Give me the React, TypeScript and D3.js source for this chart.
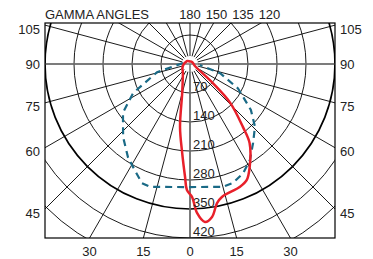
import React from 'react';
import * as d3 from 'd3';

// grid definitions
const ringValues = [70, 140, 210, 280, 350, 420, 490];
const ringLabels = [70, 140, 210, 280, 350, 420];
const boldRing = 350;
const spokeAngles = [0, 15, 30, 45, 60, 75, 90, 105, 120, 135, 150, 165, 180, 195, 210, 225, 240, 255, 270, 285, 300, 315, 330, 345];
const sideLabels = [105, 90, 75, 60, 45];
const bottomLabels = [-30, -15, 0, 15, 30];
const topLabels = [180, 150, 135, 120];
const titleText = 'GAMMA ANGLES';

// red curve: gamma (deg from nadir, negative = left), intensity (cd)
const redGamma = [-180, -135, -117, -90, -65, -38, -15, -9, -5, -2.5, -1.4, 0.9, 2.7, 5.4, 8.2, 11, 13.5, 17.4, 22, 26, 30, 37, 40, 46, 50, 68, 135];
const redCd = [6, 10, 11, 15, 20, 28, 73, 154, 216, 273, 304, 321, 360, 383, 373, 342, 330, 324, 320, 312, 288, 239, 199, 135, 72, 13, 7];

// teal dashed curve
const tealGamma = [-98, -76, -63, -54, -42.5, -33.7, -29, -22, -18, 0, 15, 20, 26, 32, 38.6, 46, 53, 63, 73, 84];
const tealCd = [17, 82, 154, 200, 239, 270, 284, 310, 312, 297, 307, 305, 293, 273, 244, 218, 184, 130, 76, 24];

const W = 373;
const H = 259;
const cx = 190;
const cy = 64;
const rScale = d3.scaleLinear().domain([0, 350]).range([0, 145]);
const x0 = cx - rScale(350);
const x1 = cx + rScale(350);
const y0 = 23;
const y1 = cy + rScale(420);

const rad = (g: number) => (g * Math.PI) / 180;
const pt = (g: number, r: number): [number, number] => [cx + r * Math.sin(rad(g)), cy + r * Math.cos(rad(g))];

const FONT = "'Liberation Sans', Arial, sans-serif";

export default function App() {
  const redData = redGamma.map((g, i) => [g, redCd[i]] as [number, number]);
  const tealData = tealGamma.map((g, i) => [g, tealCd[i]] as [number, number]);

  const radial = d3
    .lineRadial<[number, number]>()
    .angle((d) => Math.PI - rad(d[0]))
    .radius((d) => rScale(d[1]));

  const redPath = radial.curve(d3.curveCatmullRomClosed.alpha(0.5))(redData) || '';
  const tealPath = d3
    .lineRadial<[number, number]>()
    .angle((d) => Math.PI - rad(d[0]))
    .radius((d) => rScale(d[1]))
    .curve(d3.curveLinear)(tealData) || '';

  // side label y: intercept of spoke with the frame's left edge
  const sideY = (g: number) => cy - (x0 - cx) / Math.tan(rad(g)) * 1 * -1 * -1;
  const sideYFixed = (g: number) => {
    const dx = cx - x0;
    const y = cy + dx / Math.tan(rad(g));
    return g === 90 ? cy : y + 4;
  };
  const bottomX = (g: number) => cx + (y1 - cy) * Math.tan(rad(g));

  return (
    <svg width={W} height={H} style={{ position: 'absolute', left: 0, top: 0 }} fontFamily={FONT}>
      <defs>
        <clipPath id="box">
          <rect x={x0} y={y0} width={x1 - x0} height={y1 - y0} />
        </clipPath>
      </defs>
      <rect x={0} y={0} width={W} height={H} fill="#fff" />
      <g clipPath="url(#box)">
        {spokeAngles.map((g) => {
          const a = pt(g, 8);
          const b = pt(g, 400);
          return <line key={'s' + g} x1={a[0]} y1={a[1]} x2={b[0]} y2={b[1]} stroke="#000" strokeWidth={0.9} />;
        })}
        {ringValues.map((v) => (
          <circle
            key={'c' + v}
            cx={cx}
            cy={cy}
            r={rScale(v)}
            fill="none"
            stroke="#000"
            strokeWidth={v === boldRing ? 1.7 : 0.9}
          />
        ))}
        <line x1={x0} y1={cy} x2={x1} y2={cy} stroke="#777" strokeWidth={1.6} />
        <line x1={cx} y1={cy} x2={cx} y2={y1} stroke="#777" strokeWidth={1.6} />
        <path d={tealPath} transform={`translate(${cx},${cy})`} fill="none" stroke="#1a6a86" strokeWidth={2.2} strokeDasharray="7,5" />
        <path d={redPath} transform={`translate(${cx},${cy})`} fill="none" stroke="#e8202a" strokeWidth={2.5} />
      </g>
      <rect x={x0} y={y0} width={x1 - x0} height={y1 - y0} fill="none" stroke="#000" strokeWidth={1.2} />
      {ringLabels.map((v) => (
        <text key={'rl' + v} x={cx + 3} y={cy + rScale(v) - 2.5} fontSize={13} fill="#222">
          {v}
        </text>
      ))}
      {sideLabels.map((g) => (
        <g key={'sl' + g}>
          <text x={x0 - 5} y={sideYFixed(g)} fontSize={13} fill="#222" textAnchor="end" dominantBaseline="central">
            {g}
          </text>
          <text x={x1 + 5} y={sideYFixed(g)} fontSize={13} fill="#222" textAnchor="start" dominantBaseline="central">
            {g}
          </text>
        </g>
      ))}
      {bottomLabels.map((g, i) => (
        <text key={'bl' + i} x={bottomX(g)} y={251} fontSize={13} fill="#222" textAnchor="middle" dominantBaseline="central">
          {Math.abs(g)}
        </text>
      ))}
      {topLabels.map((g, i) => (
        <text key={'tl' + g} x={cx + i * 26.5} y={14} fontSize={13} fill="#222" textAnchor="middle" dominantBaseline="central">
          {g}
        </text>
      ))}
      <text x={x0} y={14} fontSize={13} fill="#222" dominantBaseline="central">
        {titleText}
      </text>
    </svg>
  );
}
